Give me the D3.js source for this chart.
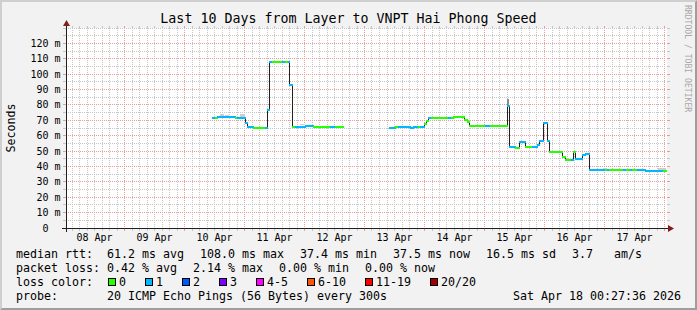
<!DOCTYPE html>
<html lang="en">
<head>
<meta charset="UTF-8">
<script src="https://d3js.org/d3.v7.min.js"></script>
<title>Last 10 Days from Layer to VNPT Hai Phong Speed</title>
<style>
  html, body { margin: 0; padding: 0; background: #f2f2f2; }
  svg { display: block; font-family: "DejaVu Sans Mono", monospace; }
  text { white-space: pre; }
</style>
</head>
<body>
<svg id="chart" width="697" height="310"></svg>
<script>
// time window of the graph
const startTime = "2026-04-08 00:27";
const endTime = "2026-04-18 00:27";

// median rtt steps: each value holds until the next time, null = no data
const stepTimes = [
  "04-10 11:05", "04-10 12:00", "04-10 12:55", "04-10 20:10", "04-10 21:05",
  "04-11 00:10", "04-11 01:00", "04-11 03:25", "04-11 08:10", "04-11 09:00",
  "04-11 09:55", "04-11 11:00", "04-11 15:00", "04-11 16:00", "04-11 17:25",
  "04-11 17:55", "04-11 19:05", "04-11 20:00", "04-12 00:00", "04-12 03:25",
  "04-12 04:10", "04-12 10:00", "04-12 12:10", "04-12 15:15",
  "04-13 09:55", "04-13 12:10", "04-13 13:30", "04-13 18:10", "04-13 19:35",
  "04-13 21:30", "04-13 22:10", "04-13 23:55", "04-14 00:35", "04-14 01:30",
  "04-14 02:35", "04-14 09:25", "04-14 10:35", "04-14 11:30", "04-14 15:55",
  "04-14 17:00", "04-14 17:55", "04-15 00:10", "04-15 02:10", "04-15 09:05",
  "04-15 09:55", "04-15 12:10", "04-15 13:55", "04-15 16:10", "04-15 18:55",
  "04-15 20:55", "04-15 21:50", "04-15 23:30", "04-16 01:05", "04-16 01:50",
  "04-16 07:05", "04-16 08:10", "04-16 10:35", "04-16 11:15", "04-16 12:10",
  "04-16 15:05", "04-16 16:10", "04-16 17:50", "04-17 00:10", "04-17 01:00",
  "04-17 01:50", "04-17 07:30", "04-17 08:25", "04-17 10:10", "04-17 11:10",
  "04-17 12:55", "04-17 16:10", "04-17 23:25", "04-18 00:25"
];
const medianMs = [
  72.0, 72.0, 72.2, 72.0, 72.0,
  68.3, 66.0, 65.6, 65.6, 76.8,
  108.0, 108.0, 108.0, 108.0, 108.0,
  93.6, 66.2, 66.2, 66.8, 66.3,
  65.7, 65.7, 65.7, null,
  65.5, 65.8, 65.8, 65.3, 65.8,
  65.8, 65.8, 68.0, 70.0, 71.7,
  71.7, 71.7, 71.7, 72.4, 70.3,
  69.0, 66.5, 66.5, 66.5, 79.5,
  53.0, 52.5, 56.1, 52.9, 52.9,
  54.0, 56.8, 68.5, 56.8, 49.6,
  46.6, 44.5, 44.5, 49.8, 45.0,
  47.8, 48.5, 38.2, 38.2, 38.2,
  38.2, 38.2, 38.2, 38.2, 38.2,
  38.2, 37.5, 37.5, null
];
// lost pings (out of 20) for each step
const lostPings = [
  1, 0, 1, 0, 1,
  1, 1, 0, 1, 1,
  1, 0, 1, 0, 1,
  1, 0, 1, 1, 0,
  0, 1, 0, 0,
  1, 0, 1, 1, 1,
  0, 1, 0, 0, 1,
  0, 1, 0, 0, 0,
  0, 0, 1, 0, 1,
  1, 0, 1, 0, 1,
  1, 1, 1, 1, 0,
  0, 0, 1, 0, 1,
  1, 1, 1, 0, 1,
  0, 1, 0, 1, 0,
  1, 1, 0, 0
];

// smoke (ping spread above the median)
const smokeFrom = ["04-10 14:10", "04-10 16:10", "04-10 22:10", "04-11 22:10", "04-12 11:25", "04-15 09:05", "04-16 23:25", "04-17 21:25"];
const smokeTo   = ["04-10 15:50", "04-10 17:50", "04-11 00:10", "04-12 00:10", "04-12 15:15", "04-15 09:55", "04-17 01:00", "04-18 00:25"];
const smokeLow  = [72.0, 72.0, 72.0, 66.8, 65.7, 79.5, 38.2, 37.5];
const smokeTop  = [74.0, 73.2, 73.8, 67.3, 66.6, 83.7, 38.8, 38.8];

const lossLabels = ["0", "1", "2", "3", "4-5", "6-10", "11-19", "20/20"];
const lossLimits = [1, 2, 3, 4, 6, 11, 20];
const lossColors = ["#26ff00", "#00b8ff", "#0059ff", "#7e00ff", "#ff00ff", "#ff5500", "#ff0000", "#a00000"];

const yTicks = [0, 10, 20, 30, 40, 50, 60, 70, 80, 90, 100, 110, 120];
const rttLegend = ["61.2 ms avg", "108.0 ms max", "37.4 ms min", "37.5 ms now", "16.5 ms sd", "3.7   am/s"];
const lossLegend = ["0.42 % avg", "2.14 % max", "0.00 % min", "0.00 % now"];
const probeText = "20 ICMP Echo Pings (56 Bytes) every 300s";
const stampText = "Sat Apr 18 00:27:36 2026";
const titleText = "Last 10 Days from Layer to VNPT Hai Phong Speed";

const W = 697, H = 310;
const parseFull = d3.timeParse("%Y-%m-%d %H:%M");
const parse = s => parseFull("2026-" + s);
const t0 = new Date(parseFull(startTime).getTime() + 36000);
const t1 = new Date(parseFull(endTime).getTime() + 36000);

const x = d3.scaleTime().domain([t0, t1]).range([65.65, 665.65]);
const y = d3.scaleLinear().domain([0, 130]).range([228, 28]);
const lossColor = d3.scaleThreshold().domain(lossLimits).range(lossColors);
const px = v => Math.floor(v) + 0.5;

const svg = d3.select("#chart");

// background + 3d frame
svg.append("rect").attr("width", W).attr("height", H).attr("fill", "#f2f2f2");
svg.append("path").attr("d", `M0,0H${W}L${W-2},2H2V${H-2}L0,${H}Z`).attr("fill", "#cfcfcf");
svg.append("path").attr("d", `M0,${H}H${W}V0L${W-2},2V${H-2}H2Z`).attr("fill", "#9e9e9e");

// canvas
svg.append("rect").attr("x", 66).attr("y", 28).attr("width", 601).attr("height", 201).attr("fill", "#fff");

const grid = svg.append("g").attr("shape-rendering", "crispEdges");
const minorCol = "#c6c6c6", majorCol = "#eb9a9a";

// vertical grid: every 3 hours, red at midnight
const hours = d3.timeHour.every(3).range(t0, t1);
hours.forEach(h => {
  const major = h.getHours() === 0;
  const xx = px(x(h));
  const col = major ? majorCol : minorCol;
  grid.append("line").attr("x1", xx).attr("x2", xx).attr("y1", 28).attr("y2", 228)
    .attr("stroke", col).attr("stroke-dasharray", "1,1");
  grid.append("line").attr("x1", xx).attr("x2", xx).attr("y1", 26).attr("y2", 28).attr("stroke", col);
  grid.append("line").attr("x1", xx).attr("x2", xx).attr("y1", 229).attr("y2", 231).attr("stroke", col);
});

// horizontal grid: every 5 m, red every 10 m
d3.range(5, 131, 5).forEach(v => {
  const major = yTicks.includes(v);
  const yy = px(y(v));
  const col = major ? majorCol : minorCol;
  grid.append("line").attr("x1", 66).attr("x2", 666).attr("y1", yy).attr("y2", yy)
    .attr("stroke", col).attr("stroke-dasharray", "1,1");
  grid.append("line").attr("x1", 63).attr("x2", 66).attr("y1", yy).attr("y2", yy).attr("stroke", col);
  grid.append("line").attr("x1", 667).attr("x2", 670).attr("y1", yy).attr("y2", yy).attr("stroke", col);
});

// smoke
svg.append("g").attr("shape-rendering", "crispEdges")
  .selectAll("rect").data(smokeFrom).join("rect")
  .attr("x", (d, i) => x(parse(d)))
  .attr("width", (d, i) => x(parse(smokeTo[i])) - x(parse(d)))
  .attr("y", (d, i) => y(smokeTop[i]))
  .attr("height", (d, i) => y(smokeLow[i]) - y(smokeTop[i]))
  .attr("fill", (d, i) => smokeTop[i] - smokeLow[i] > 2 ? "#8c8c8c" : "#cdcdcd");

// median steps
const steps = [];
for (let i = 0; i < stepTimes.length - 1; i++) {
  if (medianMs[i] == null) continue;
  steps.push({ from: parse(stepTimes[i]), to: parse(stepTimes[i + 1]), v: medianMs[i], lost: lostPings[i] });
}
const pts = [];
steps.forEach((s, i) => {
  const prev = steps[i - 1];
  if (prev && prev.to.getTime() !== s.from.getTime()) pts.push({ t: prev.to, v: null });
  pts.push({ t: s.from, v: s.v });
  const next = steps[i + 1];
  if (!next || next.from.getTime() !== s.to.getTime()) pts.push({ t: s.to, v: s.v });
});
const line = d3.line()
  .defined(d => d.v != null)
  .x(d => Math.round(x(d.t)) + 0.5)
  .y(d => px(y(d.v)))
  .curve(d3.curveStepAfter);
svg.append("path").datum(pts).attr("d", line)
  .attr("fill", "none").attr("stroke", "#202020").attr("stroke-width", 1)
  .attr("shape-rendering", "crispEdges");

svg.append("g").attr("shape-rendering", "crispEdges")
  .selectAll("rect").data(steps).join("rect")
  .attr("x", d => Math.round(x(d.from)))
  .attr("width", d => Math.round(x(d.to)) - Math.round(x(d.from)) + 1)
  .attr("y", d => Math.floor(y(d.v)) - 0.5)
  .attr("height", 2)
  .attr("fill", d => lossColor(d.lost));

// axes
const axisCol = "#1f1f1f", arrowCol = "#801f1f";
svg.append("line").attr("x1", 62).attr("x2", 669).attr("y1", 228.5).attr("y2", 228.5)
  .attr("stroke", axisCol).attr("shape-rendering", "crispEdges");
svg.append("line").attr("x1", 66.5).attr("x2", 66.5).attr("y1", 232).attr("y2", 24)
  .attr("stroke", axisCol).attr("shape-rendering", "crispEdges");
svg.append("path").attr("d", "M668,225L674,228.5L668,232Z").attr("fill", arrowCol);
svg.append("path").attr("d", "M63,26L66.5,20L70,26Z").attr("fill", arrowCol);

// y labels
svg.append("g").selectAll("text").data(yTicks).join("text")
  .attr("x", 60.5).attr("y", d => y(d) + 3.5)
  .attr("text-anchor", "end").attr("font-size", "10px").attr("fill", "#000")
  .text(d => d === 0 ? "0  " : d + " m");

// x labels at noon of each full day inside the window
const noons = d3.timeDay.range(d3.timeDay.floor(t0), t1)
  .map(d => d3.timeHour.offset(d, 12))
  .filter(d => d < t1);
svg.append("g").selectAll("text").data(noons).join("text")
  .attr("x", d => x(d))
  .attr("y", 241)
  .attr("text-anchor", "middle").attr("font-size", "10px").attr("fill", "#000")
  .text(d3.timeFormat("%d %b"));

// title, axis title, watermark
svg.append("text").attr("x", 348.5).attr("y", 23).attr("text-anchor", "middle")
  .attr("font-size", "13.3px").attr("fill", "#000").text(titleText);
svg.append("text").attr("transform", "translate(15,128) rotate(-90)").attr("text-anchor", "middle")
  .attr("font-size", "11.63px").attr("fill", "#000").text("Seconds");
svg.append("text").attr("transform", "translate(684.5,5) rotate(90)")
  .attr("font-size", "8.1px").attr("fill", "#a8a8a8").text("RRDTOOL / TOBI OETIKER");

// legend
const lg = svg.append("g").attr("font-size", "11.63px").attr("fill", "#000");
const cw = 7, gap = 16, col0 = 107;
const row = (label, items, yy) => {
  lg.append("text").attr("x", 16).attr("y", yy).text(label);
  let xx = col0;
  items.forEach(s => {
    lg.append("text").attr("x", xx).attr("y", yy).text(s);
    xx += s.length * cw + gap;
  });
};
row("median rtt:", rttLegend, 258);
row("packet loss:", lossLegend, 272);

lg.append("text").attr("x", 16).attr("y", 286).text("loss color:");
let bx = 108;
lossLabels.forEach((l, i) => {
  lg.append("rect").attr("x", bx + 0.5).attr("y", 278.5).attr("width", 7).attr("height", 7)
    .attr("fill", lossColors[i]).attr("stroke", "#000").attr("shape-rendering", "crispEdges");
  lg.append("text").attr("x", bx + 11).attr("y", 286).text(l);
  bx += 11 + l.length * cw + 19;
});

lg.append("text").attr("x", 16).attr("y", 300).text("probe:");
lg.append("text").attr("x", col0).attr("y", 300).text(probeText);
lg.append("text").attr("x", 681).attr("y", 300).attr("text-anchor", "end").text(stampText);
</script>
</body>
</html>
